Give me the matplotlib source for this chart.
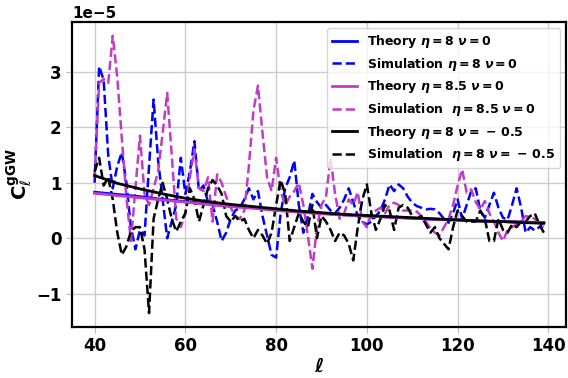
import numpy as np
import matplotlib.pyplot as plt

# multipoles of the simulated spectra
ell = np.arange(40, 140)

# simulated C_l^{gGW} (units of 1e-5)
sim_eta8_nu0 = [
    1.0, 3.1, 2.85, 1.5, 0.9, 1.3, 1.55, 1.0, 0.2, -0.2,
    0.15, 0.05, 1.3, 2.5, 1.4, 0.7, 0.0, 0.3, 0.6, 1.45,
    0.8, 1.2, 1.75, 0.85, 0.95, 0.65, 0.6, 0.3, -0.05, 0.1,
    0.35, 0.5, 0.55, 0.7, 0.9, 0.7, 0.85, 0.4, 0.05, -0.3,
    -0.35, 0.45, 0.9, 1.1, 1.4, 0.6, 0.1, 0.4, 0.8, 0.65,
    0.55, 0.6, 0.5, 0.45, 0.55, 0.7, 0.9, 0.65, 0.4, 0.3,
    0.25, 0.3, 0.4, 0.5, 0.7, 0.97, 0.85, 0.97, 0.9, 0.75,
    0.64, 0.58, 0.55, 0.52, 0.53, 0.52, 0.45, 0.35, 0.28, 0.45,
    0.7, 0.35, 0.6, 0.85, 0.9, 0.5, 0.37, 0.6, 0.82, 0.55,
    0.37, 0.33, 0.6, 0.9, 0.55, 0.1, 0.2, 0.14, 0.2, 0.3,
]
sim_eta85_nu0 = [
    1.1, 2.8, 2.87, 2.8, 3.65, 2.9, 1.8, 0.75, -0.05, 0.9,
    1.85, 0.8, 0.6, 0.9, 1.2, 1.9, 2.62, 1.5, 0.35, 0.2,
    0.45, 1.1, 1.6, 0.9, 0.85, 1.1, 0.3, 1.15, 1.0, 0.75,
    0.55, 0.4, 0.35, 0.5, 1.3, 2.3, 2.75, 1.9, 1.1, 0.85,
    1.45, 0.85, 0.6, 0.75, 0.85, 1.0, 0.6, 0.05, -0.55, 0.2,
    0.6, 0.75, 1.45, 0.8, 0.35, 0.45, 0.7, 0.6, 0.83, 0.3,
    0.2, 0.45, 0.5, 0.55, 0.45, 0.6, 0.64, 0.6, 0.5, 0.5,
    0.5, 0.48, 0.4, 0.3, 0.18, 0.1, 0.05, 0.2, 0.35, 0.6,
    0.95, 1.24, 0.82, 0.88, 0.65, 0.52, 0.67, 0.45, 0.3, 0.1,
    -0.05, 0.15, 0.2, 0.25, 0.3, 0.4, 0.38, 0.35, 0.25, 0.2,
]
sim_eta8_num05 = [
    1.2, 1.45, 0.95, 1.1, 0.7, 0.1, -0.3, -0.15, 0.12, 0.2,
    0.2, -0.2, -1.35, 0.35, 0.7, 1.0, 0.7, 0.35, 0.12, 0.3,
    0.45, 0.9, 0.7, 0.3, 0.6, 0.9, 1.05, 0.95, 0.8, 0.4,
    0.3, 0.4, 0.3, 0.35, 0.15, 0.0, 0.15, 0.05, -0.1, 0.1,
    0.6, 1.05, 0.8, -0.05, 0.2, 0.45, 0.3, 0.2, 0.6, 0.0,
    0.4, 0.3, 0.15, -0.05, 0.1, 0.05, -0.1, -0.4, 0.2, 0.7,
    0.97, 0.45, 0.15, 0.35, 0.6, 0.5, 0.15, 0.55, 0.6, 0.55,
    0.4, 0.35, 0.4, 0.25, 0.1, 0.2, 0.0, -0.1, -0.2, 0.2,
    0.5, 0.4, 0.3, 0.3, 0.3, 0.5, 0.35, -0.05, -0.05, 0.35,
    0.15, 0.1, 0.25, 0.2, 0.3, 0.3, 0.4, 0.45, 0.25, 0.1,
]

# theory curves, sampled more coarsely
ell_th = [40, 45, 50, 55, 60, 65, 70, 75, 80, 85, 90, 95, 100,
          105, 110, 115, 120, 125, 130, 135, 139]
th_eta8_nu0 = [0.83, 0.79, 0.75, 0.70, 0.66, 0.62, 0.58, 0.55, 0.51, 0.48, 0.45,
               0.42, 0.40, 0.38, 0.36, 0.34, 0.33, 0.31, 0.30, 0.29, 0.28]
th_eta85_nu0 = [0.81, 0.77, 0.73, 0.69, 0.65, 0.61, 0.57, 0.54, 0.50, 0.47, 0.44,
                0.42, 0.40, 0.38, 0.36, 0.34, 0.33, 0.31, 0.30, 0.29, 0.28]
th_eta8_num05 = [1.13, 0.99, 0.89, 0.80, 0.72, 0.66, 0.61, 0.57, 0.53, 0.49, 0.46,
                 0.43, 0.41, 0.39, 0.37, 0.35, 0.33, 0.31, 0.30, 0.28, 0.27]

scale = 1e-5
mag = '#c03cc6'

fig, ax = plt.subplots(figsize=(5.68, 3.78), dpi=100)
fig.subplots_adjust(left=0.127, right=0.997, top=0.942, bottom=0.135)

ax.plot(ell_th, np.array(th_eta8_nu0) * scale, color='b', lw=2, zorder=4,
        label=r'Theory $\boldsymbol{\eta=8\ \nu=0}$')
ax.plot(ell, np.array(sim_eta8_nu0) * scale, color='b', ls='--', lw=1.8,
        label=r'Simulation $\boldsymbol{\eta=8\ \nu=0}$')
ax.plot(ell_th, np.array(th_eta85_nu0) * scale, color=mag, lw=2, zorder=4,
        label=r'Theory $\boldsymbol{\eta=8.5\ \nu=0}$')
ax.plot(ell, np.array(sim_eta85_nu0) * scale, color=mag, ls='--', lw=1.8,
        label=r'Simulation  $\boldsymbol{\eta=8.5\ \nu=0}$')
ax.plot(ell_th, np.array(th_eta8_num05) * scale, color='k', lw=2, zorder=5,
        label=r'Theory $\boldsymbol{\eta=8\ \nu=\,-\,0.5}$')
ax.plot(ell, np.array(sim_eta8_num05) * scale, color='k', ls='--', lw=1.8,
        label=r'Simulation  $\boldsymbol{\eta=8\ \nu=\,-\,0.5}$')

ax.grid(True, color='#cccccc', lw=1)
ax.set_axisbelow(True)
for s in ax.spines.values():
    s.set_linewidth(1.6)
ax.tick_params(labelsize=12, color='#bbbbbb', length=4)
for lab in ax.get_xticklabels() + ax.get_yticklabels():
    lab.set_fontweight('bold')
ax.yaxis.get_offset_text().set_fontsize(11)
ax.yaxis.get_offset_text().set_fontweight('bold')

ax.set_xlabel(r'$\boldsymbol{\ell}$', fontsize=14, labelpad=1)
ax.set_ylabel(r'$\mathbf{C}_\ell^{\mathbf{gGW}}$', fontsize=14, labelpad=2)
ax.legend(loc='upper right', prop={'weight': 'bold', 'size': 9},
          labelspacing=0.45)

fig.savefig('out.png', dpi=100)
